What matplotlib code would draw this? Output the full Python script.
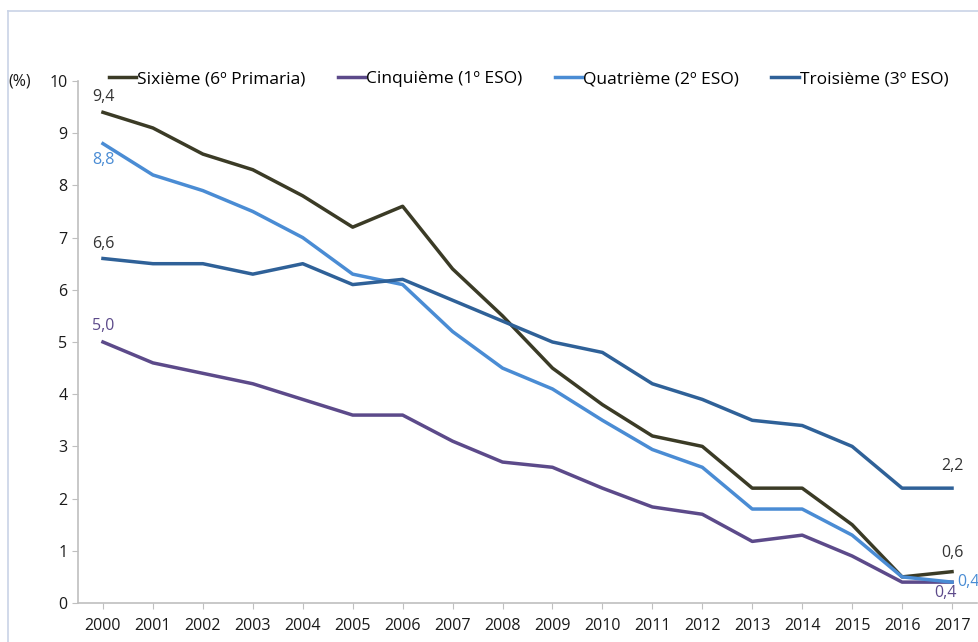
import numpy as np
import matplotlib.pyplot as plt

plt.rcParams['font.family'] = ['Open Sans', 'DejaVu Sans']

# -------------------------
# Data
# -------------------------

years = list(range(2000, 2018))

sixieme = [9.4, 9.1, 8.6, 8.3, 7.8, 7.2, 7.6, 6.4, 5.5, 4.5, 3.8, 3.2, 3.0, 2.2, 2.2, 1.5, 0.5, 0.6]
cinquieme = [5.0, 4.6, 4.4, 4.2, 3.9, 3.6, 3.6, 3.1, 2.7, 2.6, 2.2, 1.84, 1.7, 1.18, 1.3, 0.9, 0.4, 0.4]
quatrieme = [8.8, 8.2, 7.9, 7.5, 7.0, 6.3, 6.1, 5.2, 4.5, 4.1, 3.5, 2.94, 2.6, 1.8, 1.8, 1.3, 0.5, 0.4]
troisieme = [6.6, 6.5, 6.5, 6.3, 6.5, 6.1, 6.2, 5.8, 5.4, 5.0, 4.8, 4.2, 3.9, 3.5, 3.4, 3.0, 2.2, 2.2]

names = ["Sixième (6º Primaria)", "Cinquième (1º ESO)", "Quatrième (2º ESO)", "Troisième (3º ESO)"]
colors = ["#3b3b26", "#5c4a8a", "#4a8cd4", "#2f6198"]

# -------------------------
# Plot
# -------------------------

fig = plt.figure(figsize=(9.79, 6.42), dpi=100)
ax = fig.add_axes([78/979, 1 - 603/642, 899/979, (603 - 81)/642])

x = np.arange(len(years))
for vals, name, c in zip([sixieme, cinquieme, quatrieme, troisieme], names, colors):
    ax.plot(x, vals, color=c, lw=2.5, label=name, solid_joinstyle='round')

ax.set_xlim(-0.5, len(years) - 0.5)
ax.set_ylim(0, 10)
ax.set_xticks(x)
ax.set_xticklabels([str(y) for y in years])
ax.set_yticks(range(0, 11))
for s in ['top', 'right']:
    ax.spines[s].set_visible(False)
for s in ['left', 'bottom']:
    ax.spines[s].set_color('#bfbfbf')
    ax.spines[s].set_linewidth(1.2)
ax.tick_params(axis='both', colors='#bfbfbf', labelcolor='#1a1a1a', labelsize=11.5, length=4)
ax.tick_params(axis='x', pad=7)

fig.text(8/979, 1 - 82/642, "(%)", fontsize=11.5, color='#1a1a1a', va='center')

# value labels
lbl = 11.5
ax.annotate("9,4", (0, sixieme[0]), xytext=(0, 5), textcoords='offset points', ha='center', va='bottom', fontsize=lbl, color='#333333')
ax.annotate("8,8", (0, quatrieme[0]), xytext=(0, -6), textcoords='offset points', ha='center', va='top', fontsize=lbl, color=colors[2])
ax.annotate("6,6", (0, troisieme[0]), xytext=(0, 5), textcoords='offset points', ha='center', va='bottom', fontsize=lbl, color='#333333')
ax.annotate("5,0", (0, cinquieme[0]), xytext=(0, 6), textcoords='offset points', ha='center', va='bottom', fontsize=lbl, color=colors[1])
ax.annotate("2,2", (17, troisieme[-1]), xytext=(0, 10), textcoords='offset points', ha='center', va='bottom', fontsize=lbl, color='#333333')
ax.annotate("0,6", (17, sixieme[-1]), xytext=(0, 8), textcoords='offset points', ha='center', va='bottom', fontsize=lbl, color='#333333')
ax.annotate("0,4", (17, quatrieme[-1]), xytext=(4, 0), textcoords='offset points', ha='left', va='center', fontsize=lbl, color=colors[2], annotation_clip=False)
ax.annotate("0,4", (17, cinquieme[-1]), xytext=(-5, -2), textcoords='offset points', ha='center', va='top', fontsize=lbl, color=colors[1])

leg = ax.legend(loc='lower left', bbox_to_anchor=(0.034, 0.988), ncol=4, frameon=False,
                fontsize=12.5, handlelength=1.6, handletextpad=0.05, columnspacing=1.85,
                borderaxespad=0, borderpad=0)

# outer frame lines
fig.add_artist(plt.Line2D([8/979, 8/979], [0, 1 - 11/642], color='#c9d3e6', lw=1.2))
fig.add_artist(plt.Line2D([8/979, 1], [1 - 11/642, 1 - 11/642], color='#c9d3e6', lw=1.2))

fig.savefig("out.png", dpi=100)
